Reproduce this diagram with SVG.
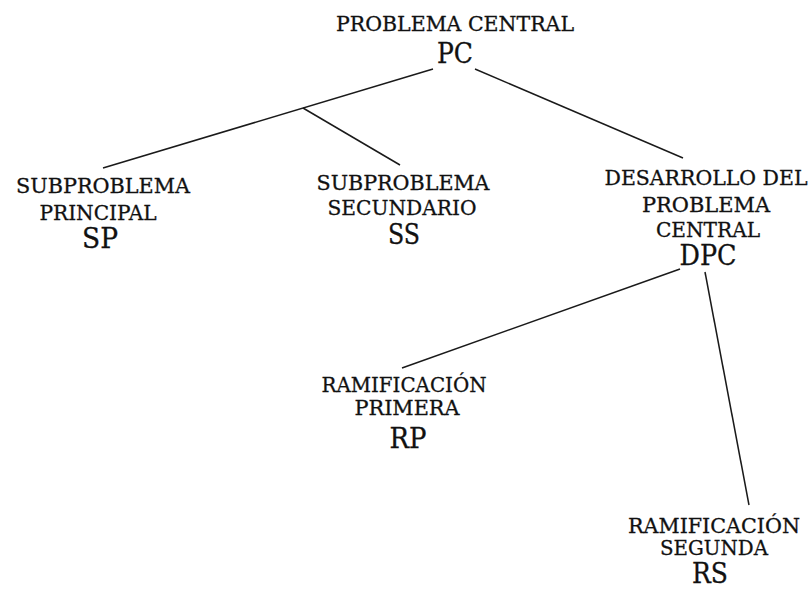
<svg xmlns="http://www.w3.org/2000/svg" width="812" height="589" viewBox="0 0 812 589">
<style>
.t{font-family:"DejaVu Serif","Liberation Serif",serif;font-size:20px;fill:#111;stroke:#111;stroke-width:0.3;text-anchor:middle}
.a{font-family:"DejaVu Serif","Liberation Serif",serif;font-size:27px;fill:#111;stroke:#111;stroke-width:0.3;text-anchor:middle}
.c line{stroke:#1a1a1a;stroke-width:1.5;fill:none}
</style>
<rect width="812" height="589" fill="#fff"/>
<g class="c" id="connectors">
<line x1="433" y1="69" x2="103" y2="168"/>
<line x1="303" y1="108" x2="400" y2="165"/>
<line x1="475" y1="69" x2="683" y2="158"/>
<line x1="680" y1="269" x2="402" y2="368"/>
<line x1="705" y1="272" x2="749" y2="505"/>
</g>
<g id="PC">
<text class="t" x="455" y="31" textLength="238" lengthAdjust="spacingAndGlyphs">PROBLEMA CENTRAL</text>
<text class="a" x="455" y="63" textLength="36" lengthAdjust="spacingAndGlyphs">PC</text>
</g>
<g id="SP">
<text class="t" x="103" y="193" textLength="174" lengthAdjust="spacingAndGlyphs">SUBPROBLEMA</text>
<text class="t" x="98" y="220" textLength="117" lengthAdjust="spacingAndGlyphs">PRINCIPAL</text>
<text class="a" x="100" y="248" textLength="36" lengthAdjust="spacingAndGlyphs">SP</text>
</g>
<g id="SS">
<text class="t" x="403" y="190" textLength="173" lengthAdjust="spacingAndGlyphs">SUBPROBLEMA</text>
<text class="t" x="402" y="215" textLength="149" lengthAdjust="spacingAndGlyphs">SECUNDARIO</text>
<text class="a" x="404" y="244" textLength="32" lengthAdjust="spacingAndGlyphs">SS</text>
</g>
<g id="DPC">
<text class="t" x="706" y="185" textLength="203" lengthAdjust="spacingAndGlyphs">DESARROLLO DEL</text>
<text class="t" x="706" y="212" textLength="128" lengthAdjust="spacingAndGlyphs">PROBLEMA</text>
<text class="t" x="708" y="237" textLength="104" lengthAdjust="spacingAndGlyphs">CENTRAL</text>
<text class="a" x="708" y="265" textLength="57" lengthAdjust="spacingAndGlyphs">DPC</text>
</g>
<g id="RP">
<text class="t" x="404" y="392" textLength="165" lengthAdjust="spacingAndGlyphs">RAMIFICACIÓN</text>
<text class="t" x="407" y="415" textLength="105" lengthAdjust="spacingAndGlyphs">PRIMERA</text>
<text class="a" x="408" y="448" textLength="37" lengthAdjust="spacingAndGlyphs">RP</text>
</g>
<g id="RS">
<text class="t" x="714" y="533" textLength="172" lengthAdjust="spacingAndGlyphs">RAMIFICACIÓN</text>
<text class="t" x="714" y="555" textLength="108" lengthAdjust="spacingAndGlyphs">SEGUNDA</text>
<text class="a" x="710" y="583" textLength="36" lengthAdjust="spacingAndGlyphs">RS</text>
</g>
</svg>
